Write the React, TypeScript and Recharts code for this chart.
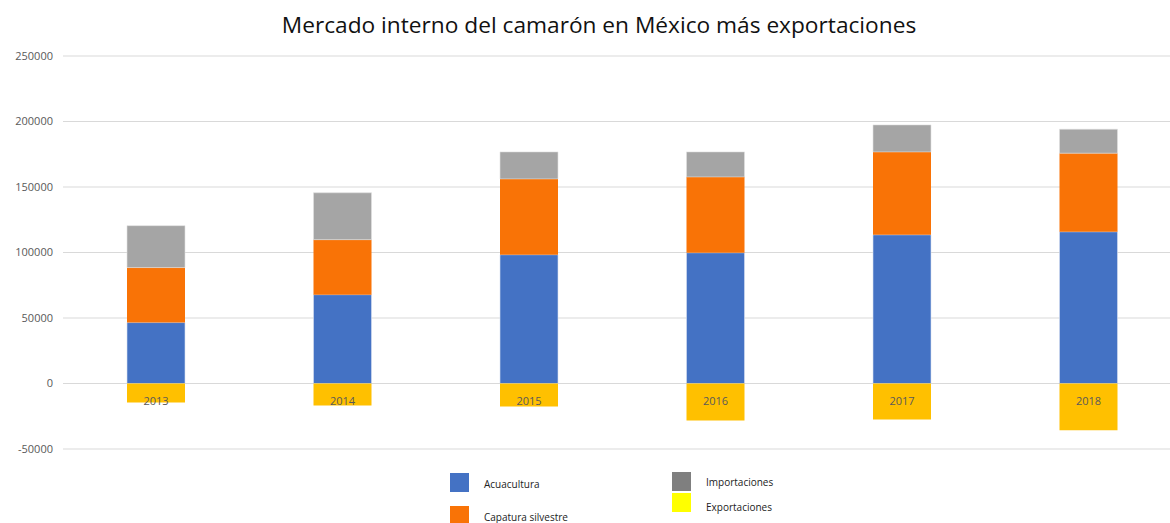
import { Bar, BarChart, CartesianGrid, XAxis, YAxis, Legend, LabelList } from 'recharts'

const years = ['2013', '2014', '2015', '2016', '2017', '2018']
const acuacultura = [46500, 67800, 98300, 99800, 113500, 115800]
const captura = [42000, 42000, 57900, 57900, 63300, 60000]
const importaciones = [32000, 35800, 20600, 19100, 20600, 18300]
const exportaciones = [-14500, -16800, -17500, -28200, -27400, -35600]
const yTicks = [-50000, 0, 50000, 100000, 150000, 200000, 250000]

const data = years.map((year, i) => ({
  year,
  Acuacultura: acuacultura[i],
  'Capatura silvestre': captura[i],
  Importaciones: importaciones[i],
  Exportaciones: exportaciones[i],
}))

const legendItems = [
  { name: 'Acuacultura', color: '#4472c4', x: 450, y: 473, dy: 1 },
  { name: 'Capatura silvestre', color: '#f97306', x: 450, y: 506, dy: 1 },
  { name: 'Importaciones', color: '#7f7f7f', x: 672, y: 472, dy: 0 },
  { name: 'Exportaciones', color: '#ffff00', x: 672, y: 493, dy: 4 },
]

// year label drawn just under the zero line, on top of the export bar
const YearLabel = (props: any) => {
  const { x, y, width, height, value } = props
  const top = Math.min(y, y + height)
  return (
    <text x={x + width / 2} y={top + 21} textAnchor="middle" fontSize={11} fill="#595959" fontFamily="Open Sans, sans-serif">
      {value}
    </text>
  )
}

const LegendBox = () => (
  <div style={{ position: 'relative', width: 1170, height: 0 }}>
    {legendItems.map((it) => (
      <div key={it.name} style={{ position: 'absolute', left: it.x, top: it.y - 449, display: 'flex', alignItems: 'center' }}>
        <div style={{ width: 19, height: 19, background: it.color }} />
        <span style={{ marginLeft: 15, fontSize: 10, color: '#222', fontFamily: 'Open Sans, sans-serif', position: 'relative', top: it.dy }}>{it.name}</span>
      </div>
    ))}
  </div>
)

export default function App() {
  return (
    <div style={{ position: 'absolute', left: 0, top: 0, width: 1170, height: 523, overflow: 'hidden', background: '#fff' }}>
      <div style={{ position: 'absolute', left: 0, top: 9, width: 1198, textAlign: 'center', fontSize: 22.7, color: '#111', fontFamily: 'Open Sans, sans-serif' }}>
        Mercado interno del camarón en México más exportaciones
      </div>
      <BarChart
        width={1182}
        height={523}
        data={data}
        stackOffset="sign"
        margin={{ top: 56, right: 0, bottom: 74, left: 0 }}
      >
        <CartesianGrid vertical={false} stroke="#d9d9d9" />
        <YAxis
          width={63}
          domain={[-50000, 250000]}
          ticks={yTicks}
          interval={0}
          axisLine={false}
          tickLine={false}
          tickMargin={4}
          tick={{ fontSize: 11, fill: '#595959', fontFamily: 'Open Sans, sans-serif' }}
        />
        <XAxis dataKey="year" hide />
        <Bar dataKey="Acuacultura" stackId="a" fill="#4472c4" stroke="#d9e1f2" strokeWidth={0.6} barSize={58} isAnimationActive={false} />
        <Bar dataKey="Capatura silvestre" stackId="a" fill="#f97306" barSize={58} isAnimationActive={false} />
        <Bar dataKey="Importaciones" stackId="a" fill="#a5a5a5" stroke="#e0e0e0" strokeWidth={0.6} barSize={58} isAnimationActive={false} />
        <Bar dataKey="Exportaciones" stackId="a" fill="#ffc000" barSize={58} isAnimationActive={false}>
          <LabelList dataKey="year" content={<YearLabel />} />
        </Bar>
        <Legend content={<LegendBox />} wrapperStyle={{ left: 0, top: 449 }} />
      </BarChart>
    </div>
  )
}
